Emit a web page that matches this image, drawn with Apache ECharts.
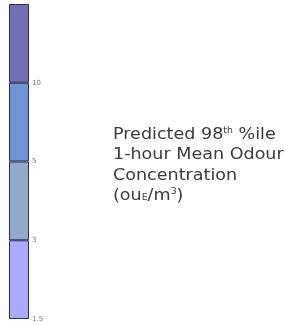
<!DOCTYPE html>
<html>
<head>
<meta charset="utf-8">
<script src="https://cdn.jsdelivr.net/npm/echarts@6/dist/echarts.min.js"></script>
<style>
  html, body { margin: 0; padding: 0; background: #fff; }
  #chart { width: 286px; height: 324px; }
</style>
</head>
<body>
<div id="chart"></div>
<script>
  // 色帶分段（由下而上）
  const bands = ['1.5-3', '3-5', '5-10', '>10'];
  const bandColors = ['#aaaafe', '#93aacb', '#6f93d3', '#7070b3'];
  const bandSizes = [1, 1, 1, 1];
  const tickLabels = ['1.5', '3', '5', '10', ''];

  const chart = echarts.init(document.getElementById('chart'));

  chart.setOption({
    animation: false,
    grid: { left: 9, top: 4, width: 20, bottom: 5 },
    xAxis: { type: 'category', data: ['legend'], show: false },
    yAxis: {
      type: 'value',
      position: 'right',
      min: 0,
      max: 4,
      interval: 1,
      splitLine: { show: false },
      axisLine: { show: false },
      axisTick: { show: false },
      axisLabel: {
        margin: 3,
        fontSize: 7,
        color: '#777',
        fontFamily: 'DejaVu Sans',
        formatter: v => tickLabels[v]
      }
    },
    series: bands.map((name, i) => ({
      name: name,
      type: 'bar',
      stack: 'band',
      barWidth: '100%',
      data: [bandSizes[i]],
      itemStyle: { color: bandColors[i], borderColor: '#2b2b55', borderWidth: 1 }
    })),
    graphic: [{
      type: 'text',
      x: 113,
      y: 125,
      scaleX: 1.17,
      style: {
        text: 'Predicted 98{sup|th} %ile\n1-hour Mean Odour\nConcentration\n(ou{sub|E}/m{sup|3})',
        fontSize: 15,
        lineHeight: 20.3,
        fontFamily: 'DejaVu Sans',
        fill: '#3a3a3a',
        rich: {
          sup: { fontSize: 8, padding: [0, 0, 8, 0], fill: '#3a3a3a', fontFamily: 'DejaVu Sans' },
          sub: { fontSize: 8, padding: [4, 0, 0, 0], fill: '#3a3a3a', fontFamily: 'DejaVu Sans' }
        }
      }
    }]
  });
</script>
</body>
</html>
